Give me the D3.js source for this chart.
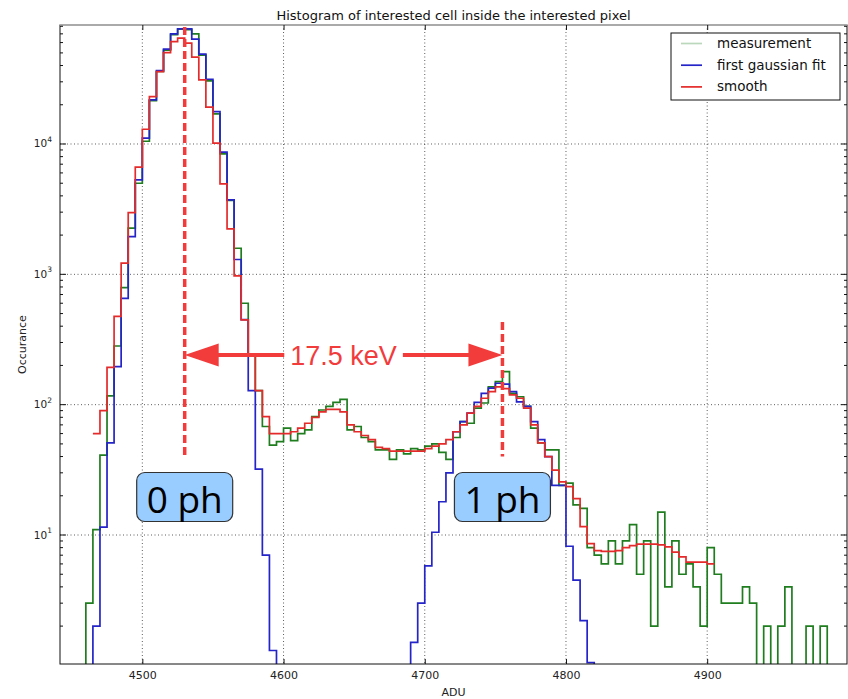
<!DOCTYPE html>
<html>
<head>
<meta charset="utf-8">
<script src="https://cdn.jsdelivr.net/npm/d3@7"></script>
<style>
  body { margin: 0; background: #fff; }
  svg { display: block; }
</style>
</head>
<body>
<svg id="chart" width="848" height="699"></svg>
<script>
// Histogram bins: lower edge of the first bin and bin width, in ADU
const binStart = 4455;
const binWidth = 5;

// Counts per bin (measured histogram), starting at binStart
const measurement = [
  0, 3, 11, 41, 117, 282, 790, 2260, 5000, 10500,
  21500, 36000, 52500, 69000, 76000, 75500, 69900, 48000, 30500, 17000,
  8400, 3700, 1585, 600, 241, 128, 68, 49, 52, 66,
  53, 60, 64, 81, 91, 97, 104, 110, 64, 68,
  56, 52, 45, 45, 38, 45, 42, 46, 45, 48,
  50, 43, 38, 56, 74, 72, 94, 103, 137, 150,
  179, 122, 115, 97, 66, 51, 45, 45, 24, 25,
  17, 16, 8, 7, 6, 9, 6, 9, 12, 5,
  9, 2, 15, 4, 9, 5, 6, 4, 2, 8,
  5, 3, 3, 3, 4, 3, 0, 2, 0, 2,
  4, 0, 0, 2, 0, 2, 0
];

// First gaussian fit evaluated per bin
const firstGaussianFit = [
  0, 0, 2, 11.5, 51, 196, 655, 1950, 5300, 11080,
  21800, 36600, 53400, 69900, 76400, 76400, 63700, 48900, 31400, 17700,
  8650, 3720, 1300, 450, 128, 32, 7, 1.3, 0, 0,
  0, 0, 0, 0, 0, 0, 0, 0, 0, 0,
  0, 0, 0, 0, 0, 0, 0, 1.5, 3, 5.8,
  10.5, 18, 30, 62, 74, 86, 104, 122, 134, 146,
  144, 126, 105, 97, 74, 54, 40, 24, 24, 8.2,
  4.5, 2.2, 1.05, 0, 0, 0, 0, 0, 0, 0,
  0, 0, 0, 0, 0, 0, 0, 0, 0, 0,
  0, 0, 0, 0, 0, 0, 0, 0, 0, 0,
  0, 0, 0, 0, 0, 0, 0
];

// Smoothed histogram (null where not computed)
const smooth = [
  null, null, 60, 90, 193, 475, 1220, 2980, 6640, 12980,
  23100, 35900, 50300, 61100, 64900, 59400, 46400, 31000, 19150, 10140,
  4940, 2230, 972, 447, 241, 128, 81, 60, 60, 60,
  62, 66, 72, 80, 88, 92, 92, 88, 70, 62,
  58, 54, 47, 46, 44, 44, 44, 44, 44, 46,
  48, 50, 54, 62, 70, 86, 97, 112, 126, 137,
  133, 119, 112, 94, 70, 51, 40, 31.5, 25.6, 23.5,
  19, 11.6, 8.6, 7.6, 7.5, 7.5, 7.6, 8.0, 8.3, 8.5,
  8.5, 8.5, 8.4, 8.1, 7.4, 6.8, 6.2, 6.2, 6.2, 6.0,
  null, null, null, null, null, null, null, null, null, null,
  null, null, null, null, null, null, null
];

const xTicks = [4500, 4600, 4700, 4800, 4900];
const yTickExponents = [1, 2, 3, 4];

const seriesNames = ["measurement", "first gaussian fit", "smooth"];
const titleText = "Histogram of interested cell inside the interested pixel";

// Photon peak positions (ADU) and the annotation level of the spacing arrow (counts)
const zeroPhotonADU = 4530;
const onePhotonADU = 4755;
const peakLabels = ["0 ph", "1 ph"];
const spacingLabel = "17.5 keV";
const arrowLevel = 240;
const markerBottomLevel = 40;
const onePhotonMarkerTop = 430;

// ---------------------------------------------------------------
const W = 848, H = 699;
const plot = { left: 60, right: 847, top: 25, bottom: 664 };
const FONT = "'DejaVu Sans', sans-serif";

const svg = d3.select("#chart");

const x = d3.scaleLinear().domain([4441.7, 4999]).range([plot.left, plot.right]);
const y = d3.scaleLog().domain([1.024, 81850]).range([plot.bottom, plot.top]);

svg.append("defs").append("clipPath").attr("id", "plotClip")
  .append("rect")
  .attr("x", plot.left).attr("y", plot.top)
  .attr("width", plot.right - plot.left).attr("height", plot.bottom - plot.top);

// grid
const grid = svg.append("g").attr("stroke", "#333").attr("stroke-width", 0.8)
  .attr("stroke-dasharray", "1,2.5");
grid.selectAll("line.vx").data(xTicks).join("line")
  .attr("x1", d => x(d)).attr("x2", d => x(d))
  .attr("y1", plot.top).attr("y2", plot.bottom);
grid.selectAll("line.hy").data(yTickExponents).join("line")
  .attr("y1", d => y(Math.pow(10, d))).attr("y2", d => y(Math.pow(10, d)))
  .attr("x1", plot.left).attr("x2", plot.right);

// step outline builder: horizontal run across each bin, verticals between bins
function stepPoints(values) {
  const pts = [];
  values.forEach((v, i) => {
    const x0 = binStart + i * binWidth;
    pts.push([x0, v]);
    pts.push([x0 + binWidth, v]);
  });
  return pts;
}
const floorY = plot.bottom + 20;
const stepLine = d3.line()
  .defined(d => d[1] !== null)
  .x(d => x(d[0]))
  .y(d => d[1] > 0 ? y(d[1]) : floorY);

const colors = { measurement: "#1f7d1f", fit: "#2424c8", smooth: "#e42a2a" };

const marks = svg.append("g").attr("clip-path", "url(#plotClip)");
marks.append("path").attr("d", stepLine(stepPoints(measurement)))
  .attr("fill", "none").attr("stroke", colors.measurement).attr("stroke-width", 1.7);
marks.append("path").attr("d", stepLine(stepPoints(firstGaussianFit)))
  .attr("fill", "none").attr("stroke", colors.fit).attr("stroke-width", 1.7);
marks.append("path").attr("d", stepLine(stepPoints(smooth)))
  .attr("fill", "none").attr("stroke", colors.smooth).attr("stroke-width", 1.7);

// frame
svg.append("rect")
  .attr("x", plot.left).attr("y", plot.top)
  .attr("width", plot.right - plot.left).attr("height", plot.bottom - plot.top)
  .attr("fill", "none").attr("stroke", "#111").attr("stroke-width", 1);
svg.append("line").attr("x1", plot.left).attr("x2", plot.right)
  .attr("y1", plot.top).attr("y2", plot.top)
  .attr("stroke", "#aaa").attr("stroke-width", 2);

// x axis (ticks inside)
const xAxis = d3.axisBottom(x).tickValues(xTicks).tickSize(-5).tickPadding(7)
  .tickFormat(d3.format("d"));
const gx = svg.append("g").attr("transform", `translate(0,${plot.bottom})`).call(xAxis);
gx.select(".domain").remove();
gx.selectAll("text").attr("font-family", FONT).attr("font-size", 11).attr("fill", "#222");
gx.selectAll("line").attr("stroke", "#111");
const gxTop = svg.append("g").attr("transform", `translate(0,${plot.top})`)
  .call(d3.axisTop(x).tickValues(xTicks).tickSize(-5).tickFormat(""));
gxTop.select(".domain").remove();
gxTop.selectAll("line").attr("stroke", "#111");

// y axis ticks (major + minor), inside on both sides
const minorVals = [];
for (let e = 0; e <= 4; e++) {
  for (let m = 2; m <= 9; m++) {
    const v = m * Math.pow(10, e);
    if (v >= y.domain()[0] && v <= y.domain()[1]) minorVals.push(v);
  }
}
const majorVals = yTickExponents.map(e => Math.pow(10, e));
const yt = svg.append("g").attr("stroke", "#111").attr("stroke-width", 1);
[[plot.left, 1], [plot.right, -1]].forEach(([sx, dir]) => {
  yt.selectAll(null).data(majorVals).join("line")
    .attr("x1", sx).attr("x2", sx + dir * 6)
    .attr("y1", d => y(d)).attr("y2", d => y(d));
  yt.selectAll(null).data(minorVals).join("line")
    .attr("x1", sx).attr("x2", sx + dir * 3)
    .attr("y1", d => y(d)).attr("y2", d => y(d));
});

// y tick labels as 10^n
const ylab = svg.append("g").attr("font-family", FONT).attr("fill", "#222");
yTickExponents.forEach(e => {
  const t = ylab.append("text")
    .attr("x", 52).attr("y", y(Math.pow(10, e)) + 3.5)
    .attr("text-anchor", "end").attr("font-size", 10.5);
  t.append("tspan").text("10");
  t.append("tspan").attr("dy", -5.5).attr("font-size", 7.5).text(e);
});

// title and axis labels
svg.append("text").attr("x", (plot.left + plot.right) / 2).attr("y", 20)
  .attr("text-anchor", "middle").attr("font-family", FONT).attr("font-size", 13)
  .attr("fill", "#111").text(titleText);
svg.append("text").attr("x", (plot.left + plot.right) / 2).attr("y", 696)
  .attr("text-anchor", "middle").attr("font-family", FONT).attr("font-size", 11)
  .attr("fill", "#222").text("ADU");
svg.append("text")
  .attr("transform", `translate(26,${(plot.top + plot.bottom) / 2}) rotate(-90)`)
  .attr("text-anchor", "middle").attr("font-family", FONT).attr("font-size", 11)
  .attr("fill", "#222").text("Occurance");

// legend
const legend = svg.append("g").attr("transform", "translate(671,33)");
legend.append("rect").attr("width", 169).attr("height", 67)
  .attr("fill", "#fff").attr("stroke", "#111").attr("stroke-width", 1);
const legendColors = ["#bcd8bc", colors.fit, colors.smooth];
seriesNames.forEach((name, i) => {
  const ly = 10.5 + i * 21.7;
  legend.append("line").attr("x1", 10).attr("x2", 31).attr("y1", ly).attr("y2", ly)
    .attr("stroke", legendColors[i]).attr("stroke-width", 1.7);
  legend.append("text").attr("x", 46).attr("y", ly + 4.5)
    .attr("font-family", FONT).attr("font-size", 13.5).attr("fill", "#111").text(name);
});

// annotations
const annColor = "#f23c3c";
const ann = svg.append("g");
ann.append("line")
  .attr("x1", x(zeroPhotonADU)).attr("x2", x(zeroPhotonADU))
  .attr("y1", plot.top + 2).attr("y2", y(markerBottomLevel))
  .attr("stroke", annColor).attr("stroke-width", 3.5).attr("stroke-dasharray", "8,4");
ann.append("line")
  .attr("x1", x(onePhotonADU)).attr("x2", x(onePhotonADU))
  .attr("y1", y(onePhotonMarkerTop)).attr("y2", y(markerBottomLevel))
  .attr("stroke", annColor).attr("stroke-width", 3.5).attr("stroke-dasharray", "8,4");

const ay = y(arrowLevel);
const ax0 = x(zeroPhotonADU), ax1 = x(onePhotonADU);
const headLen = 34, headHalf = 11.5;
const labelX = (ax0 + ax1) / 2;
const label = ann.append("text").attr("x", labelX).attr("y", ay + 9.5)
  .attr("text-anchor", "middle").attr("font-family", "'Liberation Sans', Arial, sans-serif")
  .attr("font-size", 27).attr("fill", annColor).text(spacingLabel);
const lw = label.node().getComputedTextLength();
ann.append("line").attr("x1", ax0 + headLen - 2).attr("x2", labelX - lw / 2 - 6)
  .attr("y1", ay).attr("y2", ay).attr("stroke", annColor).attr("stroke-width", 4);
ann.append("line").attr("x1", labelX + lw / 2 + 6).attr("x2", ax1 - headLen + 2)
  .attr("y1", ay).attr("y2", ay).attr("stroke", annColor).attr("stroke-width", 4);
ann.append("path")
  .attr("d", `M${ax0},${ay} L${ax0 + headLen},${ay - headHalf} L${ax0 + headLen},${ay + headHalf} Z`)
  .attr("fill", annColor);
ann.append("path")
  .attr("d", `M${ax1},${ay} L${ax1 - headLen},${ay - headHalf} L${ax1 - headLen},${ay + headHalf} Z`)
  .attr("fill", annColor);

// peak boxes
[zeroPhotonADU, onePhotonADU].forEach((p, i) => {
  const cx = x(p), cy = 497;
  const g = svg.append("g");
  g.append("rect").attr("x", cx - 48).attr("y", cy - 24.5).attr("width", 96).attr("height", 49)
    .attr("rx", 8).attr("ry", 8)
    .attr("fill", "#99ccff").attr("stroke", "#333").attr("stroke-width", 1.2);
  g.append("text").attr("x", cx).attr("y", cy + 16)
    .attr("text-anchor", "middle").attr("font-family", "'Open Sans', sans-serif")
    .attr("font-size", 37).attr("fill", "#000").text(peakLabels[i]);
});
</script>
</body>
</html>
